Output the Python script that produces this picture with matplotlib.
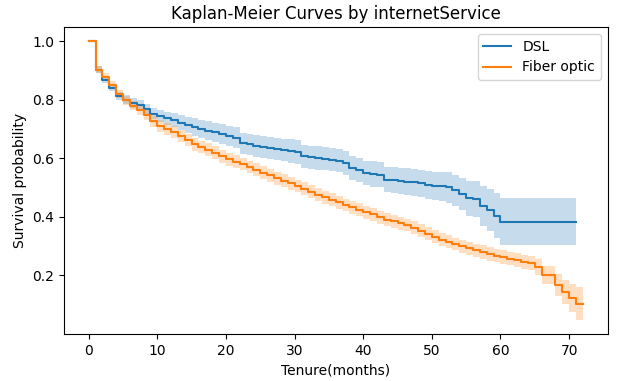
import numpy as np
import matplotlib
matplotlib.use("Agg")
import matplotlib.pyplot as plt

# Kaplan-Meier survival estimates, value held from month t to t+1
dsl_surv = [1.0, 0.902, 0.868, 0.840, 0.812, 0.800, 0.789, 0.780, 0.768, 0.752,
            0.745, 0.736, 0.730, 0.721, 0.714, 0.707, 0.700, 0.694, 0.688, 0.684,
            0.675, 0.670, 0.651, 0.648, 0.642, 0.638, 0.634, 0.632, 0.628, 0.624,
            0.621, 0.606, 0.603, 0.601, 0.598, 0.595, 0.592, 0.582, 0.568, 0.560,
            0.550, 0.546, 0.544, 0.527, 0.525, 0.523, 0.520, 0.518, 0.514, 0.507,
            0.505, 0.504, 0.500, 0.490, 0.478, 0.463, 0.460, 0.437, 0.424, 0.404,
            0.383, 0.383, 0.383, 0.383, 0.383, 0.383, 0.383, 0.383, 0.383, 0.383,
            0.383, 0.383]
dsl_ci_half = [0.0, 0.011, 0.012, 0.012, 0.013, 0.014, 0.016, 0.017, 0.018, 0.019,
               0.020, 0.022, 0.024, 0.026, 0.028, 0.030, 0.031, 0.032, 0.033, 0.034,
               0.035, 0.035, 0.036, 0.036, 0.037, 0.037, 0.038, 0.038, 0.039, 0.040,
               0.040, 0.040, 0.040, 0.040, 0.040, 0.040, 0.040, 0.041, 0.041, 0.042,
               0.042, 0.043, 0.043, 0.044, 0.044, 0.045, 0.045, 0.046, 0.047, 0.048,
               0.049, 0.050, 0.052, 0.054, 0.056, 0.059, 0.062, 0.067, 0.072, 0.076,
               0.081, 0.081, 0.081, 0.081, 0.081, 0.081, 0.081, 0.081, 0.081, 0.081,
               0.081, 0.081]

fiber_surv = [1.0, 0.902, 0.878, 0.850, 0.820, 0.797, 0.779, 0.763, 0.748, 0.726,
              0.710, 0.700, 0.690, 0.675, 0.662, 0.647, 0.638, 0.629, 0.618, 0.606,
              0.596, 0.588, 0.580, 0.570, 0.560, 0.550, 0.541, 0.532, 0.523, 0.514,
              0.505, 0.496, 0.486, 0.475, 0.466, 0.458, 0.450, 0.440, 0.432, 0.424,
              0.416, 0.408, 0.398, 0.390, 0.384, 0.378, 0.372, 0.362, 0.352, 0.342,
              0.332, 0.322, 0.315, 0.307, 0.300, 0.292, 0.285, 0.279, 0.273, 0.267,
              0.262, 0.257, 0.252, 0.247, 0.242, 0.229, 0.200, 0.200, 0.167, 0.143,
              0.122, 0.103, 0.103]
fiber_ci_half = [0.0, 0.011, 0.012, 0.013, 0.014, 0.015, 0.016, 0.017, 0.018, 0.019,
                 0.020, 0.020, 0.021, 0.021, 0.021, 0.022, 0.022, 0.022, 0.022, 0.022,
                 0.022, 0.022, 0.022, 0.022, 0.022, 0.022, 0.022, 0.022, 0.022, 0.022,
                 0.022, 0.022, 0.022, 0.022, 0.022, 0.022, 0.022, 0.022, 0.022, 0.022,
                 0.022, 0.022, 0.022, 0.022, 0.022, 0.022, 0.022, 0.022, 0.022, 0.022,
                 0.022, 0.022, 0.022, 0.022, 0.022, 0.022, 0.022, 0.023, 0.023, 0.023,
                 0.023, 0.023, 0.024, 0.024, 0.024, 0.027, 0.031, 0.031, 0.037, 0.042,
                 0.048, 0.056, 0.056]

groups = ["DSL", "Fiber optic"]
colors = ["#1f77b4", "#ff7f0e"]

fig = plt.figure(figsize=(6.27, 3.81), dpi=100)
ax = fig.add_axes([0.102, 0.123, 0.867, 0.806])

for name, surv, half, col in [(groups[0], dsl_surv, dsl_ci_half, colors[0]),
                               (groups[1], fiber_surv, fiber_ci_half, colors[1])]:
    s = np.array(surv)
    h = np.array(half)
    t = np.arange(len(s))
    ax.fill_between(t, np.clip(s - h, 0, 1), np.clip(s + h, 0, 1), step="post",
                    color=col, alpha=0.25, linewidth=0)
    ax.plot(t, s, drawstyle="steps-post", color=col, linewidth=1.5, label=name)

ax.set_title("Kaplan-Meier Curves by internetService", fontsize=12)
ax.set_xlabel("Tenure(months)")
ax.set_ylabel("Survival probability")
ax.set_xticks([0, 10, 20, 30, 40, 50, 60, 70])
ax.set_yticks([0.2, 0.4, 0.6, 0.8, 1.0])
ax.legend(loc="upper right")

fig.savefig("out.png", dpi=100)
